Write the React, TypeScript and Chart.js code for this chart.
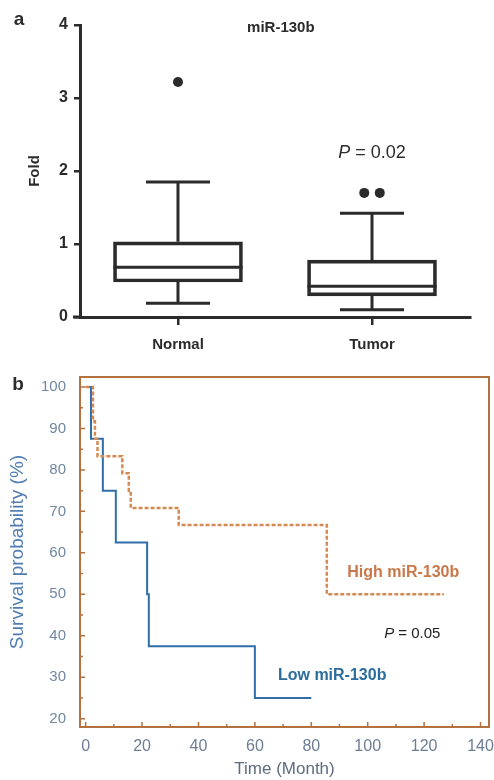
import React, { useEffect, useRef } from "react";
import { Chart, registerables } from "chart.js";
Chart.register(...registerables);

// ---------- Panel a: box plot data ----------
const groups = ["Normal", "Tumor"];
const groupPos = [1, 2];
const boxMin = [0.19, 0.1];
const boxQ1 = [0.48, 0.29];
const boxMedian = [0.68, 0.42];
const boxQ3 = [1.03, 0.78];
const boxMax = [1.85, 1.42];
const outlierX = [1, 1.96, 2.04];
const outlierY = [3.22, 1.7, 1.7];
const foldTicks = [0, 1, 2, 3, 4];

// ---------- Panel b: Kaplan-Meier data ----------
const lowTime = [0, 1.9, 6.1, 10.7, 21.8, 22.4, 60, 80];
const lowSurv = [100, 87.5, 75, 62.5, 50, 37.5, 25, 25];
const highTime = [0, 2.6, 3.3, 4.2, 13, 15.3, 16, 33, 85.5, 127];
const highSurv = [100, 91.7, 87.5, 83.3, 79.2, 75, 70.8, 66.7, 50, 50];
const timeTicks = [0, 20, 40, 60, 80, 100, 120, 140];
const survTicks = [20, 30, 40, 50, 60, 70, 80, 90, 100];

const FONT = "'Liberation Sans', Arial, sans-serif";
const DARK = "#2b2b2b";
const ORANGE_FRAME = "#b2713f";
const ORANGE_LINE = "#d48a52";
const BLUE_LINE = "#2f6ea8";

function drawPText(ctx: CanvasRenderingContext2D, cx: number, cy: number, rest: string, size: number, color: string) {
  ctx.save();
  ctx.fillStyle = color;
  ctx.textBaseline = "middle";
  ctx.textAlign = "left";
  ctx.font = `italic ${size}px ${FONT}`;
  const wP = ctx.measureText("P").width;
  ctx.font = `${size}px ${FONT}`;
  const wR = ctx.measureText(rest).width;
  const x0 = cx - (wP + wR) / 2;
  ctx.font = `italic ${size}px ${FONT}`;
  ctx.fillText("P", x0, cy);
  ctx.font = `${size}px ${FONT}`;
  ctx.fillText(rest, x0 + wP, cy);
  ctx.restore();
}

const boxPlugin = {
  id: "boxExtras",
  afterDatasetsDraw(chart: any) {
    const { ctx, scales, chartArea } = chart;
    const xs = scales.x;
    const ys = scales.y;
    ctx.save();
    ctx.strokeStyle = DARK;
    ctx.lineWidth = 3;
    ctx.lineCap = "butt";
    const boxHalf = 0.333;
    const capHalf = 0.165;
    groupPos.forEach((p, i) => {
      const cx = xs.getPixelForValue(p);
      const l = xs.getPixelForValue(p - boxHalf);
      const r = xs.getPixelForValue(p + boxHalf);
      const cl = xs.getPixelForValue(p - capHalf);
      const cr = xs.getPixelForValue(p + capHalf);
      const yMed = ys.getPixelForValue(boxMedian[i]);
      const yQ1 = ys.getPixelForValue(boxQ1[i]);
      const yQ3 = ys.getPixelForValue(boxQ3[i]);
      const yMin = ys.getPixelForValue(boxMin[i]);
      const yMax = ys.getPixelForValue(boxMax[i]);
      ctx.beginPath();
      ctx.moveTo(l, yMed); ctx.lineTo(r, yMed);
      ctx.moveTo(cx, yQ3); ctx.lineTo(cx, yMax);
      ctx.moveTo(cl, yMax); ctx.lineTo(cr, yMax);
      ctx.moveTo(cx, yQ1); ctx.lineTo(cx, yMin);
      ctx.moveTo(cl, yMin); ctx.lineTo(cr, yMin);
      ctx.stroke();
    });
    ctx.beginPath();
    ctx.moveTo(chartArea.left - 7, chartArea.bottom);
    ctx.lineTo(chartArea.left, chartArea.bottom);
    ctx.stroke();
    ctx.fillStyle = DARK;
    ctx.textAlign = "center";
    ctx.textBaseline = "middle";
    ctx.font = `bold 15px ${FONT}`;
    ctx.fillText("miR-130b", xs.getPixelForValue(1.53), chartArea.top + 3);
    ctx.font = `bold 19px ${FONT}`;
    ctx.fillText("a", 19, 20);
    drawPText(ctx, xs.getPixelForValue(2), ys.getPixelForValue(2.25), " = 0.02", 18, DARK);
    ctx.restore();
  },
};

const kmPlugin = {
  id: "kmExtras",
  afterDatasetsDraw(chart: any) {
    const { ctx, scales, chartArea } = chart;
    const xs = scales.x;
    const ys = scales.y;
    ctx.save();
    ctx.strokeStyle = ORANGE_FRAME;
    ctx.lineWidth = 2;
    ctx.strokeRect(chartArea.left, chartArea.top, chartArea.right - chartArea.left, chartArea.bottom - chartArea.top);
    ctx.lineWidth = 1.5;
    ctx.beginPath();
    for (let t = 0; t <= 140; t += 10) {
      const x = xs.getPixelForValue(t);
      const len = t % 20 === 0 ? 5 : 3;
      ctx.moveTo(x, chartArea.bottom);
      ctx.lineTo(x, chartArea.bottom - len);
    }
    for (let v = 20; v <= 100; v += 5) {
      const y = ys.getPixelForValue(v);
      const len = v % 10 === 0 ? 5 : 3;
      ctx.moveTo(chartArea.left, y);
      ctx.lineTo(chartArea.left + len, y);
    }
    ctx.stroke();
    ctx.textAlign = "center";
    ctx.textBaseline = "middle";
    ctx.font = `bold 16px ${FONT}`;
    ctx.fillStyle = "#c8784a";
    ctx.fillText("High miR-130b", xs.getPixelForValue(112.6), ys.getPixelForValue(55.3));
    ctx.fillStyle = "#2a6c9e";
    ctx.fillText("Low miR-130b", xs.getPixelForValue(87.4), ys.getPixelForValue(30.4));
    drawPText(ctx, xs.getPixelForValue(115.8), ys.getPixelForValue(40.5), " = 0.05", 15, "#222");
    ctx.fillStyle = "#2b2b2b";
    ctx.font = `bold 19px ${FONT}`;
    ctx.fillText("b", 18, 25);
    ctx.restore();
  },
};

export default function App() {
  const refA = useRef<HTMLCanvasElement | null>(null);
  const refB = useRef<HTMLCanvasElement | null>(null);

  useEffect(() => {
    const chartA = new Chart(refA.current as HTMLCanvasElement, {
      type: "bar",
      data: {
        datasets: [
          {
            type: "bar",
            data: groupPos.map((x, i) => ({ x, y: [boxQ1[i], boxQ3[i]] })) as any,
            backgroundColor: "rgba(0,0,0,0)",
            borderColor: DARK,
            borderWidth: 3,
            borderSkipped: false,
            barThickness: 129,
          } as any,
          {
            type: "scatter",
            data: outlierX.map((x, i) => ({ x, y: outlierY[i] })),
            pointRadius: 5,
            pointBackgroundColor: DARK,
            pointBorderWidth: 0,
          } as any,
        ],
      },
      options: {
        responsive: false,
        maintainAspectRatio: false,
        animation: false,
        layout: { padding: { top: 25, right: 24, left: 0, bottom: 0 } },
        plugins: { legend: { display: false }, tooltip: { enabled: false } },
        scales: {
          x: {
            type: "linear",
            min: 0.495,
            max: 2.505,
            offset: false,
            afterBuildTicks: (s: any) => { s.ticks = groupPos.map((v) => ({ value: v })); },
            afterFit: (s: any) => { s.height = 43; s.paddingLeft = 0; s.paddingRight = 0; },
            ticks: {
              callback: (v: any) => groups[groupPos.indexOf(Number(v))] ?? "",
              font: { family: FONT, size: 15, weight: "bold" },
              color: DARK,
              padding: 11,
              maxRotation: 0,
            },
            grid: { display: true, drawOnChartArea: false, tickLength: 8, color: DARK, lineWidth: 2.5, offset: false },
            border: { display: true, color: DARK, width: 3 },
          },
          y: {
            type: "linear",
            min: 0,
            max: 4,
            afterBuildTicks: (s: any) => { s.ticks = foldTicks.map((v) => ({ value: v })); },
            afterFit: (s: any) => { s.width = 80; s.paddingTop = 0; s.paddingBottom = 0; },
            ticks: { font: { family: FONT, size: 16, weight: "bold" }, color: DARK, padding: 6 },
            grid: { display: true, drawOnChartArea: false, tickLength: 6, color: DARK, lineWidth: 2.5 },
            border: { display: true, color: DARK, width: 3 },
            title: {
              display: true,
              text: "Fold",
              font: { family: FONT, size: 15, weight: "bold" },
              color: DARK,
              padding: { top: 26, bottom: 0 },
            },
          },
        },
      },
      plugins: [boxPlugin],
    } as any);

    const chartB = new Chart(refB.current as HTMLCanvasElement, {
      type: "line",
      data: {
        datasets: [
          {
            label: "High miR-130b",
            data: highTime.map((t, i) => ({ x: t, y: highSurv[i] })),
            borderColor: ORANGE_LINE,
            borderWidth: 2.5,
            borderDash: [4, 2],
            stepped: "before",
            pointRadius: 0,
            fill: false,
          },
          {
            label: "Low miR-130b",
            data: lowTime.map((t, i) => ({ x: t, y: lowSurv[i] })),
            borderColor: BLUE_LINE,
            borderWidth: 2,
            stepped: "before",
            pointRadius: 0,
            fill: false,
          },
        ],
      },
      options: {
        responsive: false,
        maintainAspectRatio: false,
        animation: false,
        layout: { padding: { top: 17, right: 5, left: 0, bottom: 0 } },
        plugins: { legend: { display: false }, tooltip: { enabled: false } },
        scales: {
          x: {
            type: "linear",
            min: -2,
            max: 143,
            afterBuildTicks: (s: any) => { s.ticks = timeTicks.map((v) => ({ value: v })); },
            afterFit: (s: any) => { s.height = 53; s.paddingLeft = 0; s.paddingRight = 0; },
            ticks: { font: { family: FONT, size: 16 }, color: "#6d7d94", padding: 10, maxRotation: 0 },
            grid: { display: false, drawTicks: false },
            border: { display: false },
            title: {
              display: true,
              text: "Time (Month)",
              font: { family: FONT, size: 17 },
              color: "#5d6b80",
              padding: { top: 0, bottom: 0 },
            },
          },
          y: {
            type: "linear",
            min: 18,
            max: 102.4,
            afterBuildTicks: (s: any) => { s.ticks = survTicks.map((v) => ({ value: v })); },
            afterFit: (s: any) => { s.width = 80; s.paddingTop = 0; s.paddingBottom = 0; },
            ticks: { font: { family: FONT, size: 15 }, color: "#7186a3", padding: 14 },
            grid: { display: false, drawTicks: false },
            border: { display: false },
            title: {
              display: true,
              text: "Survival probability (%)",
              font: { family: FONT, size: 19 },
              color: "#4f7db2",
              padding: { top: 6, bottom: 0 },
            },
          },
        },
      },
      plugins: [kmPlugin],
    } as any);

    return () => {
      chartA.destroy();
      chartB.destroy();
    };
  }, []);

  return (
    <div style={{ position: "absolute", left: 0, top: 0, width: 494, height: 780, background: "#fff" }}>
      <canvas ref={refA} width={494} height={360} style={{ position: "absolute", left: 0, top: 0, display: "block" }} />
      <canvas ref={refB} width={494} height={420} style={{ position: "absolute", left: 0, top: 360, display: "block" }} />
    </div>
  );
}
